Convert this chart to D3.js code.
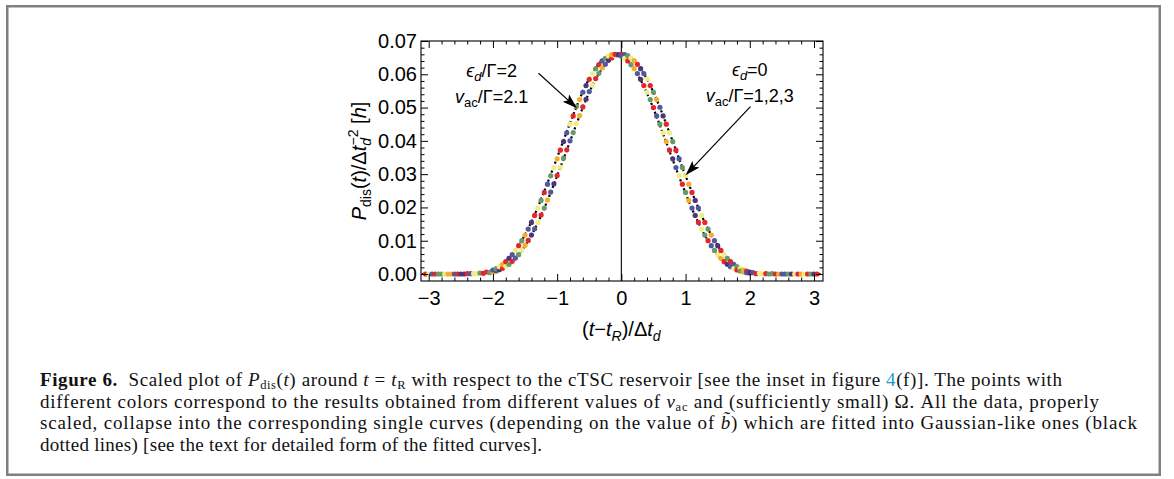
<!DOCTYPE html>
<html><head><meta charset="utf-8">
<script src="https://cdn.jsdelivr.net/npm/d3@7/dist/d3.min.js"></script>
<style>body{margin:0;background:#fff} svg{display:block} text{white-space:pre}</style>
</head><body><svg id="c" width="1174" height="479"></svg>
<script>
// ---------- data ----------
const xTicks = [-3,-2,-1,0,1,2,3];
const xTickLabels = ["\u22123","\u22122","\u22121","0","1","2","3"];
const yTicks = [0,0.01,0.02,0.03,0.04,0.05,0.06,0.07];
const yTickLabels = ["0.00","0.01","0.02","0.03","0.04","0.05","0.06","0.07"];

// fitted (black dotted) curves
const fitT = [-3.1,-3,-2.9,-2.8,-2.7,-2.6,-2.5,-2.4,-2.3,-2.2,-2.1,-2,-1.9,-1.8,-1.7,-1.6,-1.5,-1.4,-1.3,-1.2,-1.1,-1,-0.9,-0.8,-0.7,-0.6,-0.5,-0.4,-0.3,-0.2,-0.1,0,0.1,0.2,0.3,0.4,0.5,0.6,0.7,0.8,0.9,1,1.1,1.2,1.3,1.4,1.5,1.6,1.7,1.8,1.9,2,2.1,2.2,2.3,2.4,2.5,2.6,2.7,2.8,2.9,3,3.1];
const fitA = [0,0,0,0,0,0,0,0,0.00005,0.0001,0.0003,0.0006,0.0012,0.0022,0.0037,0.0058,0.0085,0.0117,0.0155,0.0198,0.0245,0.0295,0.0346,0.0398,0.0450,0.0500,0.0546,0.0585,0.0617,0.0640,0.0655,0.0660,0.0655,0.0640,0.0617,0.0585,0.0546,0.0500,0.0450,0.0398,0.0346,0.0295,0.0245,0.0198,0.0155,0.0117,0.0085,0.0058,0.0037,0.0022,0.0012,0.0006,0.0003,0.0001,0.00005,0,0,0,0,0,0,0,0];
const fitB = [0,0,0,0,0,0,0,0.00005,0.0001,0.0003,0.0006,0.0012,0.0022,0.0037,0.0058,0.0085,0.0118,0.0157,0.0201,0.0249,0.0299,0.0350,0.0402,0.0453,0.0502,0.0548,0.0587,0.0619,0.0642,0.0656,0.0661,0.0655,0.0639,0.0615,0.0583,0.0543,0.0497,0.0447,0.0395,0.0343,0.0292,0.0243,0.0196,0.0154,0.0116,0.0084,0.0057,0.0037,0.0022,0.0012,0.0006,0.0003,0.0001,0.00005,0,0,0,0,0,0,0,0,0];

// scattered points, eps_d = 0 (v_ac/Gamma = 1,2,3)
const ptsA_t = [-3.05,-2.95,-2.85,-2.75,-2.65,-2.55,-2.45,-2.35,-2.25,-2.15,-2.05,
 -2,-1.95,-1.9,-1.85,-1.8,-1.75,-1.7,-1.65,-1.6,-1.55,-1.5,-1.45,-1.4,-1.35,-1.3,-1.25,-1.2,-1.15,-1.1,-1.05,-1,-0.95,-0.9,-0.85,-0.8,-0.75,-0.7,-0.65,-0.6,-0.55,-0.5,-0.45,-0.4,-0.35,-0.3,-0.25,-0.2,-0.15,-0.1,-0.05,0,0.05,0.1,0.15,0.2,0.25,0.3,0.35,0.4,0.45,0.5,0.55,0.6,0.65,0.7,0.75,0.8,0.85,0.9,0.95,1,1.05,1.1,1.15,1.2,1.25,1.3,1.35,1.4,1.45,1.5,1.55,1.6,1.65,1.7,1.75,1.8,1.85,1.9,1.95,2,
 2.05,2.15,2.25,2.35,2.45,2.55,2.65,2.75,2.85,2.95,3.05];
const ptsA_y = [0,0,0,0,0,0,0,0.0001,0.0001,0.0002,0.0004,
 0.0006,0.0009,0.0013,0.0017,0.0023,0.0029,0.0038,0.0048,0.0058,0.0072,0.0086,0.0101,0.0117,0.0136,0.0155,0.0177,0.0198,0.0222,0.0246,0.0271,0.0296,0.0321,0.0348,0.0373,0.0400,0.0425,0.0452,0.0476,0.0502,0.0525,0.0548,0.0567,0.0587,0.0603,0.0619,0.0630,0.0642,0.0649,0.0656,0.0659,0.0661,0.0659,0.0656,0.0649,0.0641,0.0630,0.0617,0.0602,0.0586,0.0566,0.0546,0.0524,0.0501,0.0475,0.0450,0.0424,0.0398,0.0372,0.0346,0.0320,0.0296,0.0270,0.0245,0.0221,0.0198,0.0176,0.0155,0.0135,0.0117,0.0100,0.0085,0.0071,0.0058,0.0047,0.0037,0.0029,0.0022,0.0016,0.0012,0.0009,0.0006,
 0.0004,0.0002,0.0001,0.0001,0,0,0,0,0,0,0];

// scattered points, eps_d/Gamma = 2 (v_ac/Gamma = 2.1)
const ptsB_t = [-3,-2.9,-2.8,-2.7,-2.6,-2.5,-2.4,-2.3,-2.2,-2.1,
 -2,-1.95,-1.9,-1.85,-1.8,-1.75,-1.7,-1.65,-1.6,-1.55,-1.5,-1.45,-1.4,-1.35,-1.3,-1.25,-1.2,-1.15,-1.1,-1.05,-1,-0.95,-0.9,-0.85,-0.8,-0.75,-0.7,-0.65,-0.6,-0.55,-0.5,-0.45,-0.4,-0.35,-0.3,-0.25,-0.2,-0.15,-0.1,-0.05,0,0.05,0.1,0.15,0.2,0.25,0.3,0.35,0.4,0.45,0.5,0.55,0.6,0.65,0.7,0.75,0.8,0.85,0.9,0.95,1,1.05,1.1,1.15,1.2,1.25,1.3,1.35,1.4,1.45,1.5,1.55,1.6,1.65,1.7,1.75,1.8,1.85,1.9,1.95,2,
 2.1,2.2,2.3,2.4,2.5,2.6,2.7,2.8,2.9,3];
const ptsB_y = [0,0,0,0,0,0,0.0001,0.0001,0.0003,0.0006,
 0.0012,0.0016,0.0022,0.0029,0.0037,0.0047,0.0058,0.0071,0.0085,0.0100,0.0117,0.0135,0.0155,0.0176,0.0198,0.0221,0.0245,0.0270,0.0295,0.0320,0.0346,0.0372,0.0398,0.0424,0.0450,0.0475,0.0503,0.0524,0.0546,0.0566,0.0585,0.0602,0.0617,0.0629,0.0640,0.0648,0.0655,0.0659,0.0660,0.0659,0.0655,0.0648,0.0640,0.0629,0.0617,0.0602,0.0585,0.0566,0.0546,0.0524,0.0500,0.0475,0.0450,0.0424,0.0398,0.0372,0.0346,0.0320,0.0295,0.0270,0.0245,0.0221,0.0198,0.0176,0.0155,0.0135,0.0117,0.0100,0.0085,0.0071,0.0058,0.0047,0.0037,0.0029,0.0022,0.0016,0.0012,0.0009,0.0006,0.0004,0.0003,
 0.0001,0,0,0,0,0,0,0,0,0];

// annotations (data units)
const annotLeft = {t:-2.02, y:0.0592};
const annotRight = {t:2.0, y:0.0596};
const arrowLeft = {t0:-1.29, y0:0.0603, t1:-0.69, y1:0.0498};
const arrowRight = {t0:2.01, y0:0.0503, t1:1.0, y1:0.0297};

// ---------- drawing ----------
const palette = {r:"#e3262b", b:"#52589f", g:"#679a69", y:"#f2ec85", o:"#f6ad2b", p:"#4f3478"};
const cycle = "rbgyorpbyrgobpryg";

const svg = d3.select("#c");
const x = d3.scaleLinear().domain([-3.12,3.14]).range([421,823]);
const y = d3.scaleLinear().domain([-0.0021,0.07]).range([281,41]);
const sans = "'Liberation Sans', Arial, Helvetica, sans-serif";
const serif = "'Liberation Serif', 'Times New Roman', serif";

// caption frame
svg.append("rect").attr("x",7.25).attr("y",6.25).attr("width",1152.5).attr("height",468.5)
  .attr("fill","none").attr("stroke","#808080").attr("stroke-width",2.5);

// zero line
svg.append("line").attr("x1",x(0)).attr("x2",x(0)).attr("y1",y.range()[0]).attr("y2",y.range()[1])
  .attr("stroke","#000").attr("stroke-width",1.1);

// fitted curves
const line = d3.line().x((d)=>x(d[0])).y((d)=>y(d[1])).curve(d3.curveMonotoneX);
[fitA, fitB].forEach(arr=>{
  svg.append("path").datum(fitT.map((t,i)=>[t,arr[i]])).attr("d",line)
    .attr("fill","none").attr("stroke","#000").attr("stroke-width",2.2)
    .attr("stroke-dasharray","2.2,2.6");
});

// points
const pts = [];
ptsA_t.forEach((t,i)=>pts.push({t, v:ptsA_y[i], c:cycle[i%cycle.length]}));
ptsB_t.forEach((t,i)=>pts.push({t, v:ptsB_y[i], c:cycle[(i+8)%cycle.length]}));
pts.sort((a,b)=>a.t-b.t);
svg.append("g").selectAll("circle").data(pts).join("circle")
  .attr("cx",d=>x(d.t)).attr("cy",d=>y(d.v)).attr("r",2.6)
  .attr("fill",d=>palette[d.c]);

// frame & axes
function styleAxis(g){ g.select(".domain").remove(); g.selectAll("line").attr("stroke","#000").attr("stroke-width",1);
  g.selectAll("text").attr("font-family",sans).attr("font-size",20).attr("fill","#000"); }
const xMinor = x.ticks(30).filter(v=>Math.abs(v-Math.round(v))>1e-6);
const yMinor = y.ticks(35).filter(v=>Math.abs(v*100-Math.round(v*100))>1e-6 && v>=0);

svg.append("g").attr("transform",`translate(0,${y.range()[0]})`)
  .call(d3.axisBottom(x).tickValues(xTicks).tickSize(-7).tickPadding(10).tickFormat((d,i)=>xTickLabels[i])).call(styleAxis);
svg.append("g").attr("transform",`translate(0,${y.range()[0]})`)
  .call(d3.axisBottom(x).tickValues(xMinor).tickSize(-3.5).tickFormat("")).call(styleAxis);
svg.append("g").attr("transform",`translate(0,${y.range()[1]})`)
  .call(d3.axisTop(x).tickValues(xTicks).tickSize(-7).tickFormat("")).call(styleAxis);
svg.append("g").attr("transform",`translate(0,${y.range()[1]})`)
  .call(d3.axisTop(x).tickValues(xMinor).tickSize(-3.5).tickFormat("")).call(styleAxis);
svg.append("g").attr("transform",`translate(${x.range()[0]},0)`)
  .call(d3.axisLeft(y).tickValues(yTicks).tickSize(-7).tickPadding(4).tickFormat((d,i)=>yTickLabels[i])).call(styleAxis);
svg.append("g").attr("transform",`translate(${x.range()[0]},0)`)
  .call(d3.axisLeft(y).tickValues(yMinor).tickSize(-3.5).tickFormat("")).call(styleAxis);
svg.append("g").attr("transform",`translate(${x.range()[1]},0)`)
  .call(d3.axisRight(y).tickValues(yTicks).tickSize(-7).tickFormat("")).call(styleAxis);
svg.append("g").attr("transform",`translate(${x.range()[1]},0)`)
  .call(d3.axisRight(y).tickValues(yMinor).tickSize(-3.5).tickFormat("")).call(styleAxis);
svg.append("rect").attr("x",x.range()[0]).attr("y",y.range()[1])
  .attr("width",x.range()[1]-x.range()[0]).attr("height",y.range()[0]-y.range()[1])
  .attr("fill","none").attr("stroke","#000").attr("stroke-width",1.1);

// helper for rich text
function rich(sel, parts){
  parts.forEach(p=>{
    const ts = sel.append("tspan").text(p.s);
    if(p.i) ts.attr("font-style","italic");
    if(p.b) ts.attr("font-weight","bold");
    if(p.fs) ts.attr("font-size",p.fs);
    if(p.dy) ts.attr("dy",p.dy);
    if(p.dx) ts.attr("dx",p.dx);
    if(p.fill) ts.attr("fill",p.fill);
  });
  return sel;
}

// x title
rich(svg.append("text").attr("x",x(0)).attr("y",336).attr("text-anchor","middle")
  .attr("font-family",sans).attr("font-size",20),
  [{s:"("},{s:"t",i:1},{s:"\u2212"},{s:"t",i:1},{s:"R",i:1,fs:14,dy:5},{s:")/\u0394",dy:-5},{s:"t",i:1},{s:"d",i:1,fs:14,dy:5}]);

// y title
rich(svg.append("text").attr("transform",`translate(366,${(y.range()[0]+y.range()[1])/2}) rotate(-90)`)
  .attr("text-anchor","middle").attr("font-family",sans).attr("font-size",20),
  [{s:"P",i:1},{s:"dis",fs:14,dy:5},{s:"(",dy:-5},{s:"t",i:1},{s:")/\u0394",},{s:"t",i:1},
   {s:"d",i:1,fs:14,dy:5},{s:"\u22122",fs:14,dx:-7.5,dy:-13},{s:" [",dy:8},{s:"h",i:1},{s:"]"}]);

// annotations
function annot(a, l1, l2){
  rich(svg.append("text").attr("x",x(a.t)).attr("y",y(a.y)).attr("text-anchor","middle")
    .attr("font-family",sans).attr("font-size",18), l1);
  rich(svg.append("text").attr("x",x(a.t)).attr("y",y(a.y)+26).attr("text-anchor","middle")
    .attr("font-family",sans).attr("font-size",18), l2);
}
annot(annotLeft,
  [{s:"\u03f5",i:1},{s:"d",i:1,fs:13,dy:4},{s:"/\u0393=2",dy:-4}],
  [{s:"v",i:1},{s:"ac",fs:13,dy:4},{s:"/\u0393=2.1",dy:-4}]);
annot(annotRight,
  [{s:"\u03f5",i:1},{s:"d",i:1,fs:13,dy:4},{s:"=0",dy:-4}],
  [{s:"v",i:1},{s:"ac",fs:13,dy:4},{s:"/\u0393=1,2,3",dy:-4}]);

function arrow(a){
  const x0=x(a.t0), y0=y(a.y0), x1=x(a.t1), y1=y(a.y1);
  const dx=x1-x0, dy=y1-y0, L=Math.hypot(dx,dy), ux=dx/L, uy=dy/L, nx=-uy, ny=ux;
  const hl=15, hw=4.8;
  const bx=x1-ux*hl, by=y1-uy*hl;
  svg.append("line").attr("x1",x0).attr("y1",y0).attr("x2",x1-ux*8).attr("y2",y1-uy*8)
    .attr("stroke","#000").attr("stroke-width",1.2);
  svg.append("path").attr("d",`M${x1},${y1}L${bx+nx*hw},${by+ny*hw}L${x1-ux*hl*0.8},${y1-uy*hl*0.8}L${bx-nx*hw},${by-ny*hw}Z`)
    .attr("fill","#000");
}
arrow(arrowLeft); arrow(arrowRight);

// caption
const capLines = [
  {y:386, len:1022, parts:[{s:"Figure 6.",b:1},{s:"  Scaled plot of "},{s:"P",i:1},{s:"dis",fs:12.5,dy:3},{s:"(",dy:-3},{s:"t",i:1},{s:") around "},{s:"t",i:1},{s:" = "},{s:"t",i:1},{s:"R",fs:12.5,dy:3},{s:" with respect to the cTSC reservoir [see the inset in figure ",dy:-3},{s:"4",fill:"#1b9ad8"},{s:"(f)]. The points with"}]},
  {y:407.5, len:1059, parts:[{s:"different colors correspond to the results obtained from different values of "},{s:"v",i:1},{s:"ac",fs:12.5,dy:3},{s:" and (sufficiently small) \u03a9. All the data, properly",dy:-3}]},
  {y:429, len:1097, parts:[{s:"scaled, collapse into the corresponding single curves (depending on the value of "},{s:"b\u0303",i:1},{s:") which are fitted into Gaussian-like ones (black"}]},
  {y:450.5, len:502, parts:[{s:"dotted lines) [see the text for detailed form of the fitted curves]."}]}
];
capLines.forEach(l=>{
  const t = svg.append("text").attr("x",40).attr("y",l.y).attr("font-family",serif).attr("font-size",19).attr("fill","#111");
  if(l.len) t.attr("textLength",l.len).attr("lengthAdjust","spacing");
  rich(t, l.parts);
});
</script></body></html>
